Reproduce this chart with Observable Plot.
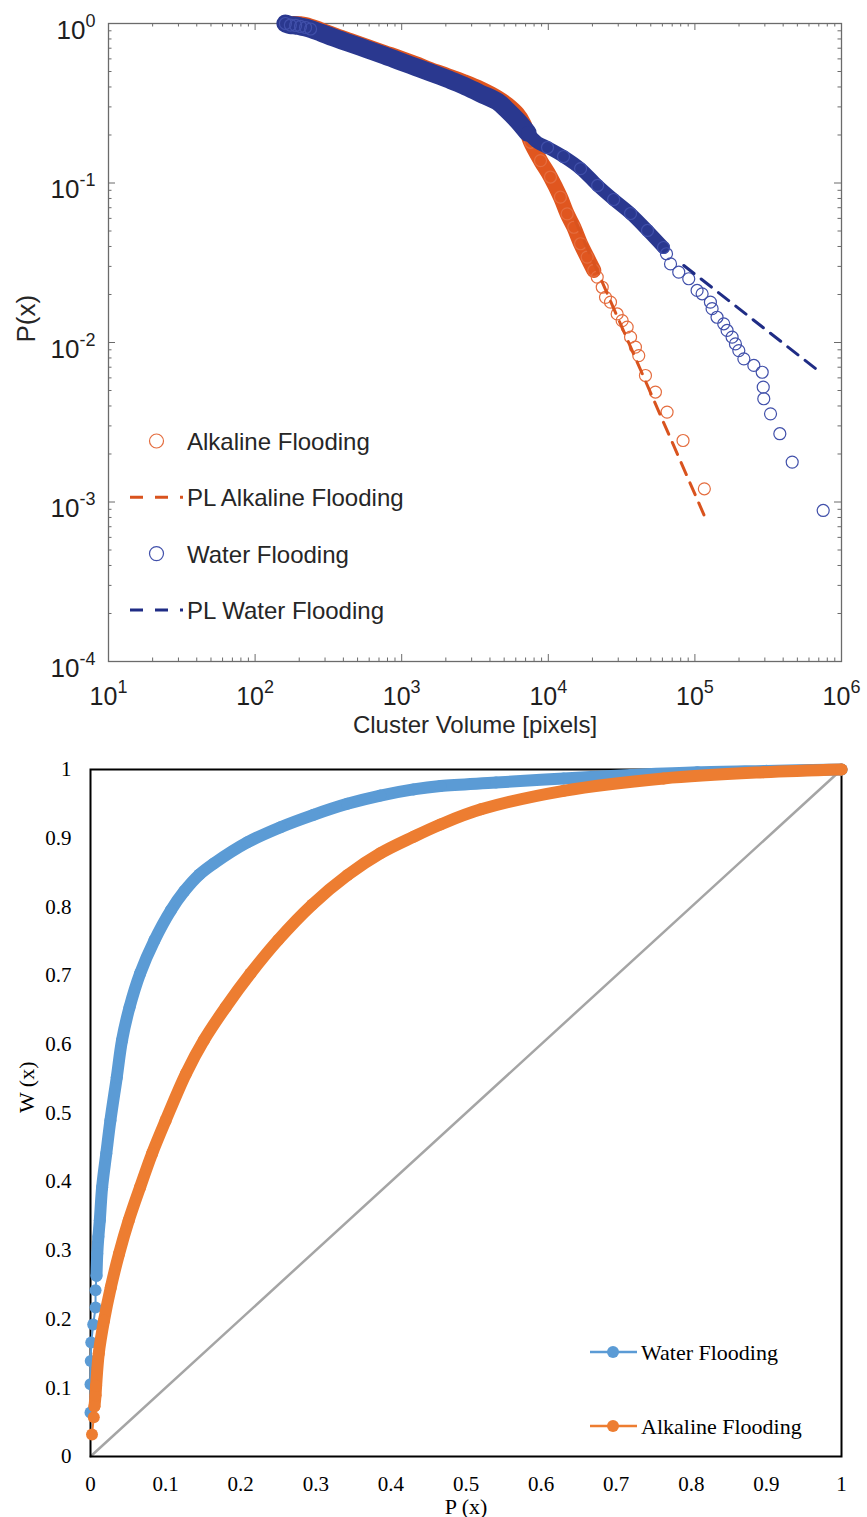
<!DOCTYPE html>
<html>
<head>
<meta charset="utf-8">
<script src="https://cdn.jsdelivr.net/npm/d3@7"></script>
<script src="https://cdn.jsdelivr.net/npm/@observablehq/plot@0.6"></script>
<style>
  html, body { margin: 0; padding: 0; background: #fff; }
  #chart { width: 867px; }
  #chart svg { display: block; }
</style>
</head>
<body>
<div id="chart"></div>
<script>
// ---------- Cluster-size distribution, P(x) vs cluster volume [X, P] ----------
const waterFlooding = [
  [161,1.0],[174,0.978],[189,0.972],[204,0.958],[221,0.944],[239,0.924],[279,0.878],[343,0.817],
  [448,0.749],[585,0.687],[764,0.63],[982,0.578],[1242,0.534],[1571,0.493],[2051,0.449],[2641,0.409],
  [3445,0.364],[4498,0.324],[5270,0.285],[6166,0.246],[7215,0.207],[8444,0.1795],[9880,0.167],
  [12700,0.1466],[16600,0.123],[21700,0.0965],[27900,0.0788],[36400,0.0644],[47500,0.0504],
  [61100,0.0394],[64000,0.036],[68200,0.0311],[77600,0.0276],[90800,0.0251],[103500,0.0212],
  [112000,0.0202],[127600,0.0179],[131000,0.0163],[141600,0.0144],[157300,0.0131],[165800,0.0119],
  [179400,0.0108],[189000,0.0098],[199300,0.0089],[215800,0.0079],[252400,0.00718],[287800,0.00651],
  [292500,0.00525],[295000,0.00444],[328000,0.00357],[379600,0.00268],[461000,0.00178],[750000,0.000885]
];
const alkalineFlooding = [
  [182,1.0],[221,0.986],[279,0.917],[343,0.853],[448,0.782],[585,0.717],[764,0.658],[982,0.608],
  [1242,0.561],[1571,0.515],[2051,0.472],[2641,0.433],[3445,0.391],[4498,0.344],[5270,0.311],
  [6166,0.272],[6810,0.236],[7570,0.18],[8850,0.138],[10350,0.109],[12100,0.0815],[13450,0.064],
  [14940,0.0528],[16600,0.0416],[18420,0.0343],[20440,0.0283],[21560,0.0257],[23330,0.0222],
  [24560,0.0192],[26560,0.0179],[29500,0.0151],[31900,0.0137],[34500,0.0125],[36400,0.0108],
  [39300,0.00935],[41400,0.00828],[46000,0.00621],[53800,0.00489],[64600,0.00366],[83000,0.00243],
  [116000,0.00121]
];
// power-law fits (end points)
const waterPowerLaw = [[84000,0.0304],[682000,0.00674]];
const alkalinePowerLaw = [[15300,0.058],[116000,0.00082]];

// volumes where the circles pile up into a solid band
const waterWideLimit = 7215;     // widest part of the band
const waterDenseLimit = 61100;
const alkalineDenseLimit = 20440;

const decadesX = [1e1, 1e2, 1e3, 1e4, 1e5, 1e6];
const decadesY = [1e-4, 1e-3, 1e-2, 1e-1, 1e0];
const minorSteps = [2, 3, 4, 5, 6, 7, 8, 9];

// ---------- Cumulative share curves, W(x) vs P(x) [P, W] ----------
const waterShare = [
  [0,0.064],[0,0.105],[0.0003,0.139],[0.001,0.166],[0.0036,0.192],[0.0067,0.217],[0.0067,0.242],
  [0.008,0.263],[0.009,0.295],[0.0105,0.32],[0.0124,0.344],[0.0155,0.392],[0.021,0.441],[0.0265,0.489],
  [0.035,0.552],[0.042,0.606],[0.052,0.654],[0.066,0.703],[0.085,0.751],[0.107,0.795],[0.125,0.823],
  [0.145,0.847],[0.164,0.863],[0.209,0.894],[0.253,0.916],[0.297,0.934],[0.342,0.95],[0.386,0.962],
  [0.43,0.971],[0.466,0.976],[0.54,0.981],[0.63,0.987],[0.72,0.992],[0.808,0.996],[0.9,0.998],[1,1]
];
const alkalineShare = [
  [0.002,0.032],[0.0044,0.057],[0.0053,0.073],[0.0067,0.089],[0.0075,0.103],[0.011,0.15],[0.018,0.198],
  [0.027,0.246],[0.038,0.295],[0.051,0.344],[0.066,0.392],[0.082,0.441],[0.1,0.489],[0.127,0.557],
  [0.151,0.606],[0.18,0.654],[0.213,0.703],[0.25,0.752],[0.295,0.803],[0.342,0.846],[0.386,0.878],
  [0.43,0.902],[0.466,0.92],[0.52,0.942],[0.63,0.969],[0.763,0.987],[0.896,0.996],[1,1]
];
const equality = [0, 1];
const shareTicks = [0, 0.1, 0.2, 0.3, 0.4, 0.5, 0.6, 0.7, 0.8, 0.9, 1];
// share above which the markers merge into a continuous band
const waterBandFrom = 0.26;
const alkalineBandFrom = 0.07;

// ---------- styling ----------
const sans = "'Liberation Sans', Arial, Helvetica, sans-serif";
const serif = "'Liberation Serif', 'Times New Roman', serif";
const axisGray = "#6b6b6b";
const textDark = "#262626";
const navyBand = "#2a388f", navyCircle = "#4150aa", navyLine = "#1f2c85";
const rustBand = "#e0561f", rustCircle = "#e46d3f", rustLine = "#d9531e";
const excelBlue = "#5b9bd5", excelOrange = "#ed7d31", excelGray = "#a5a5a5";

const vol = d => d[0], prob = d => d[1];
const powerLabel = d => `10^${Math.round(Math.log10(d))}`;
const band = (data, color, width) => Plot.line(data, {
  x: vol, y: prob, stroke: color, strokeWidth: width,
  strokeLinecap: "round", strokeLinejoin: "round", curve: "catmull-rom"
});

// ---------- upper panel ----------
const U = {width: 867, height: 745, top: 23, right: 26, bottom: 84, left: 108};
const uW = U.width - U.left - U.right;
const uH = U.height - U.top - U.bottom;
const minorX = decadesX.slice(0, -1).flatMap(d => minorSteps.map(k => d * k));
const minorY = decadesY.slice(0, -1).flatMap(d => minorSteps.map(k => d * k));
const tickStyle = {stroke: axisGray, strokeWidth: 1};

const upper = Plot.plot({
  width: U.width, height: U.height,
  marginTop: U.top, marginRight: U.right, marginBottom: U.bottom, marginLeft: U.left,
  x: {type: "log", domain: [1e1, 1e6]},
  y: {type: "log", domain: [1e-4, 1]},
  style: {fontFamily: sans, color: "#1e1e1e", background: "#fff", overflow: "visible"},
  marks: [
    Plot.frame({stroke: axisGray, strokeWidth: 1.3}),
    // inward ticks on all four sides
    Plot.tickX(decadesX, {x: d => d, insetBottom: uH - 7, ...tickStyle}),
    Plot.tickX(decadesX, {x: d => d, insetTop: uH - 7, ...tickStyle}),
    Plot.tickX(minorX, {x: d => d, insetBottom: uH - 3.5, ...tickStyle}),
    Plot.tickX(minorX, {x: d => d, insetTop: uH - 3.5, ...tickStyle}),
    Plot.tickY(decadesY, {y: d => d, insetRight: uW - 7, ...tickStyle}),
    Plot.tickY(decadesY, {y: d => d, insetLeft: uW - 7, ...tickStyle}),
    Plot.tickY(minorY, {y: d => d, insetRight: uW - 3.5, ...tickStyle}),
    Plot.tickY(minorY, {y: d => d, insetLeft: uW - 3.5, ...tickStyle}),
    Plot.axisX({ticks: decadesX, tickSize: 0, tickPadding: 26, fontSize: 25, fontFamily: sans, tickFormat: powerLabel, label: null}),
    Plot.axisY({ticks: decadesY, tickSize: 0, tickPadding: 13, fontSize: 26, fontFamily: sans, dy: 7, tickFormat: powerLabel, label: null}),
    // alkaline flooding
    band(alkalineFlooding.filter(d => d[0] <= alkalineDenseLimit), rustBand, 15),
    Plot.dot(alkalineFlooding.filter(d => d[0] > 7000), {x: vol, y: prob, r: 6, stroke: rustCircle, strokeWidth: 1.2}),
    Plot.line(alkalinePowerLaw, {x: vol, y: prob, stroke: rustLine, strokeWidth: 3, strokeDasharray: "13 9"}),
    // water flooding
    band(waterFlooding.filter(d => d[0] <= waterWideLimit), navyBand, 18),
    band(waterFlooding.filter(d => d[0] >= waterWideLimit && d[0] <= waterDenseLimit), navyBand, 13),
    Plot.dot(waterFlooding.filter(d => d[0] < 260), {x: vol, y: prob, r: 6, stroke: navyCircle, strokeWidth: 1.2}),
    Plot.dot(waterFlooding.filter(d => d[0] > 9000), {x: vol, y: prob, r: 6, stroke: navyCircle, strokeWidth: 1.2}),
    Plot.line(waterPowerLaw, {x: vol, y: prob, stroke: navyLine, strokeWidth: 3, strokeDasharray: "13 9"}),
    // axis titles
    Plot.text(["Cluster Volume [pixels]"], {text: d => d, frameAnchor: "bottom", dy: 71, fontSize: 24, fill: textDark}),
    Plot.text(["P(x)"], {text: d => d, frameAnchor: "left", dx: -82, rotate: -90, fontSize: 26, fill: textDark})
  ]
});

// turn "10^n" tick labels into base + superscript
d3.select(upper).selectAll("text").each(function () {
  const m = /^10\^(-?\d+)$/.exec(this.textContent);
  if (!m) return;
  const t = d3.select(this);
  t.text(null);
  t.append("tspan").text("10");
  t.append("tspan").attr("dy", -12).attr("font-size", 18).text(m[1]);
});

// legend of the upper panel
const upperLegend = [
  {label: "Alkaline Flooding", kind: "circle", color: rustCircle},
  {label: "PL Alkaline Flooding", kind: "dash", color: rustLine},
  {label: "Water Flooding", kind: "circle", color: navyCircle},
  {label: "PL Water Flooding", kind: "dash", color: navyLine}
];
const ul = d3.select(upper).append("g")
  .attr("font-family", sans).attr("font-size", 24).attr("fill", textDark).attr("text-anchor", "start");
upperLegend.forEach((item, i) => {
  const cy = 441 + i * 56.3;
  if (item.kind === "circle") {
    ul.append("circle").attr("cx", 156.5).attr("cy", cy).attr("r", 7)
      .attr("fill", "none").attr("stroke", item.color).attr("stroke-width", 1.2);
  } else {
    ul.append("line").attr("x1", 130).attr("x2", 183).attr("y1", cy).attr("y2", cy)
      .attr("stroke", item.color).attr("stroke-width", 3).attr("stroke-dasharray", "13 12");
  }
  ul.append("text").attr("x", 187).attr("y", cy + 9).text(item.label);
});

// ---------- lower panel ----------
const L = {width: 867, height: 772, top: 24, right: 26, bottom: 61, left: 90};
const share = d => d[0], wealth = d => d[1];
const shareFormat = d => String(+d.toFixed(1));
const shareBand = (data, color) => Plot.line(data, {
  x: share, y: wealth, stroke: color, strokeWidth: 12,
  strokeLinecap: "round", strokeLinejoin: "round", curve: "catmull-rom"
});

const lower = Plot.plot({
  width: L.width, height: L.height,
  marginTop: L.top, marginRight: L.right, marginBottom: L.bottom, marginLeft: L.left,
  x: {domain: [0, 1]},
  y: {domain: [0, 1]},
  style: {fontFamily: serif, color: "#000", background: "#fff", overflow: "visible"},
  marks: [
    Plot.line(equality, {x: d => d, y: d => d, stroke: excelGray, strokeWidth: 2.5}),
    Plot.frame({stroke: "#000", strokeWidth: 2}),
    Plot.axisX({ticks: shareTicks, tickSize: 0, tickPadding: 20, fontSize: 21, fontFamily: serif, tickFormat: shareFormat, label: null}),
    Plot.axisY({ticks: shareTicks, tickSize: 0, tickPadding: 19, fontSize: 21, fontFamily: serif, tickFormat: shareFormat, label: null}),
    // water flooding
    Plot.line(waterShare, {x: share, y: wealth, stroke: excelBlue, strokeWidth: 2}),
    shareBand(waterShare.filter(d => d[1] >= waterBandFrom), excelBlue),
    Plot.dot(waterShare, {x: share, y: wealth, r: 6, fill: excelBlue}),
    // alkaline flooding
    Plot.line(alkalineShare, {x: share, y: wealth, stroke: excelOrange, strokeWidth: 2}),
    shareBand(alkalineShare.filter(d => d[1] >= alkalineBandFrom), excelOrange),
    Plot.dot(alkalineShare, {x: share, y: wealth, r: 6, fill: excelOrange}),
    // axis titles
    Plot.text(["P (x)"], {text: d => d, frameAnchor: "bottom", dy: 57, fontSize: 22, fontFamily: serif}),
    Plot.text(["W (x)"], {text: d => d, frameAnchor: "left", dx: -64, rotate: -90, fontSize: 22, fontFamily: serif})
  ]
});

// legend of the lower panel
const lowerLegend = [
  {label: "Water Flooding", color: excelBlue},
  {label: "Alkaline Flooding", color: excelOrange}
];
const ll = d3.select(lower).append("g")
  .attr("font-family", serif).attr("font-size", 22).attr("fill", "#000").attr("text-anchor", "start");
lowerLegend.forEach((item, i) => {
  const cy = 607 + i * 74;
  ll.append("line").attr("x1", 590).attr("x2", 637).attr("y1", cy).attr("y2", cy)
    .attr("stroke", item.color).attr("stroke-width", 2.5);
  ll.append("circle").attr("cx", 613).attr("cy", cy).attr("r", 6).attr("fill", item.color);
  ll.append("text").attr("x", 641).attr("y", cy + 8).text(item.label);
});

document.getElementById("chart").append(upper, lower);
</script>
</body>
</html>
